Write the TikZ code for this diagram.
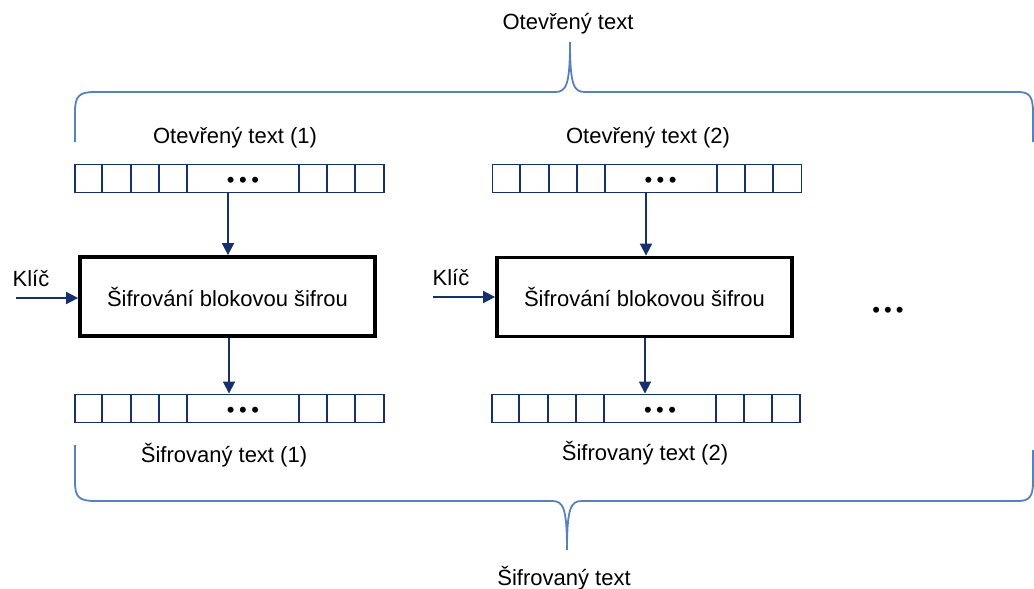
\documentclass[tikz,border=0pt]{standalone}
\usepackage{fontspec}
\setmainfont{Liberation Sans}
\usetikzlibrary{arrows.meta,calc}
\definecolor{navy}{RGB}{22,48,108}
\definecolor{bracecol}{RGB}{88,128,190}
\tikzset{
  lbl/.style={font=\fontsize{22}{24}\selectfont, inner sep=0pt, anchor=base},
  cipherbox/.style={draw=black, line width=3.8pt, minimum width=295, minimum height=79,
    inner sep=0pt, font=\fontsize{22}{24}\selectfont},
  reg/.style={draw=navy, line width=1.9pt, minimum width=309, minimum height=28, inner sep=0pt},
  divider/.style={draw=navy, line width=1.9pt},
  flow/.style={draw=navy, line width=1.8pt, -{Triangle[length=12pt,width=12pt]}},
  brace/.style={draw=bracecol, line width=1.8pt},
  dots/.style={font=\fontsize{22}{22}\selectfont, inner sep=0pt},
}
\begin{document}
\begin{tikzpicture}[x=1pt,y=-1pt]
\useasboundingbox (0,0) rectangle (1034,589);

% overall labels
\node[lbl] (pt) at (568,30) {Otevřený text};
\node[lbl] (ct) at (564,585) {Šifrovaný text};

% braces
\draw[brace] (75,142) -- (75,112) .. controls (75,96) and (79,92) .. (95,92)
  -- (555,92) .. controls (566,92) and (570,86) .. (570,42)
  .. controls (570,86) and (574,92) .. (585,92)
  -- (1018,92) .. controls (1029,92) and (1033,96) .. (1033,112) -- (1033,142);
\draw[brace] (75,445) -- (75,482) .. controls (75,497) and (79,501) .. (95,501)
  -- (552,501) .. controls (563,501) and (567,507) .. (567,550)
  .. controls (567,507) and (571,501) .. (582,501)
  -- (1018,501) .. controls (1029,501) and (1033,497) .. (1033,482) -- (1033,450);

% stage 1
\node[lbl] (pl1) at (235,143) {Otevřený text (1)};
\node[reg] (p1) at (229.5,178.5) {};
\node[cipherbox] (b1) at (227.5,296.5) {Šifrování blokovou šifrou};
\node[reg] (c1) at (229.5,408.5) {};
\node[lbl] (cl1) at (224,462) {Šifrovaný text (1)};
\node[lbl] (k1l) at (31,286) {Klíč};
\coordinate (k1) at (16,298);

% stage 2
\node[lbl] (pl2) at (648,143) {Otevřený text (2)};
\node[reg] (p2) at (647,178.5) {};
\node[cipherbox] (b2) at (644.5,297) {Šifrování blokovou šifrou};
\node[reg, minimum width=308] (c2) at (646,408.5) {};
\node[lbl] (cl2) at (645,460) {Šifrovaný text (2)};
\node[lbl] (k2l) at (451,285) {Klíč};
\coordinate (k2) at (433,297);

% cell dividers and dots in each register
\foreach \r in {p1,c1,p2,c2}{
  \foreach \d in {28,57,85,113,225,253,281}
    \draw[divider] ($(\r.north west)+(\d,0)$) -- ($(\r.south west)+(\d,0)$);
  \node[dots] at ($(\r.west)+(169,4)$) {•\hspace{4.5pt}•\hspace{4.5pt}•};
}

% further stages
\node[dots] (more) at (888,312) {•\hspace{4pt}•\hspace{4pt}•};

% connectors
\draw[flow] (p1.south -| 228,0) -- (b1.north -| 228,0);
\draw[flow] (b1.south -| 229,0) -- (c1.north -| 229,0);
\draw[flow] (k1) -- (k1 -| b1.west);
\draw[flow] (p2.south -| 646,0) -- (b2.north -| 646,0);
\draw[flow] (b2.south -| 645,0) -- (c2.north -| 645,0);
\draw[flow] (k2) -- (k2 -| b2.west);
\end{tikzpicture}
\end{document}
